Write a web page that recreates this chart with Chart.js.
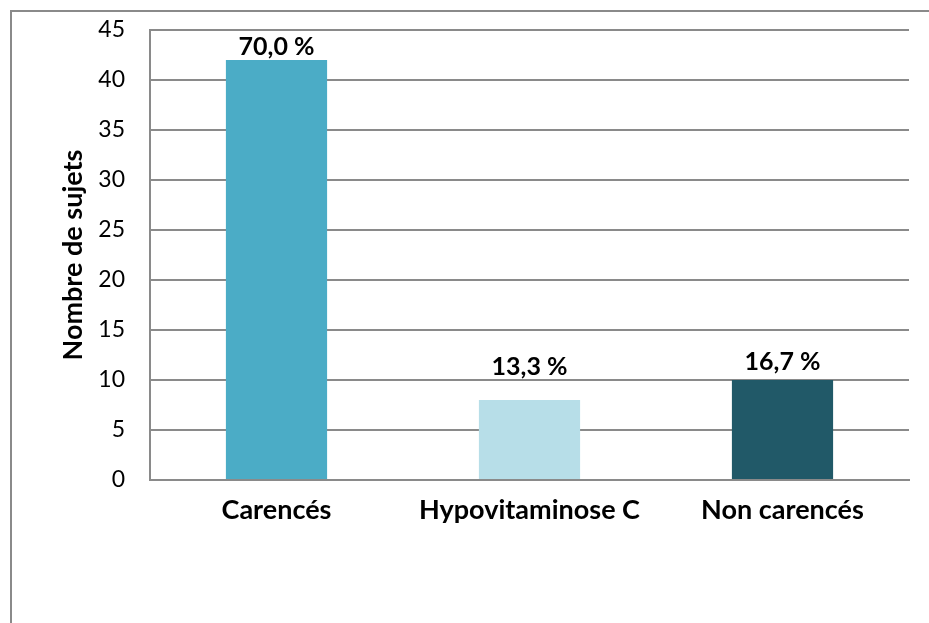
<!DOCTYPE html>
<html>
<head>
<meta charset="utf-8">
<script src="https://cdn.jsdelivr.net/npm/chart.js@4/dist/chart.umd.min.js"></script>
<style>
  html,body{margin:0;padding:0;background:#fff;overflow:hidden}
  #frame{position:absolute;left:10px;top:10px;width:940px;height:640px;border:2px solid #8a8a8a;box-sizing:border-box}
  #wrap{position:absolute;left:0;top:0;width:929px;height:623px}
</style>
</head>
<body>
<div id="frame"></div>
<div id="wrap"><canvas id="c" width="929" height="623"></canvas></div>
<script>
const categories = ['Carencés', 'Hypovitaminose C', 'Non carencés'];
const counts = [42, 8, 10];
const pctLabels = ['70,0 %', '13,3 %', '16,7 %'];
const barColors = ['#4BACC6', '#B7DEE8', '#215968'];
const yTitle = 'Nombre de sujets';

const FONT = 'Lato, sans-serif';
// gap between bar top and label baseline (Excel nudged the middle one up)
const labelGap = [5, 25, 10];

const valueLabels = {
  id:'valueLabels',
  afterDatasetsDraw(chart){
    const ctx = chart.ctx, meta = chart.getDatasetMeta(0);
    ctx.save();
    ctx.font = 'bold 25px ' + FONT;
    ctx.fillStyle = '#000';
    ctx.textAlign = 'center';
    ctx.textBaseline = 'alphabetic';
    meta.data.forEach((bar,i)=>{ ctx.fillText(pctLabels[i], bar.x, bar.y - labelGap[i]); });
    ctx.restore();
  }
};

new Chart(document.getElementById('c'), {
  type:'bar',
  data:{ labels: categories, datasets:[{ data: counts, backgroundColor: barColors, barPercentage:0.8, categoryPercentage:0.5 }] },
  options:{
    responsive:false, animation:false,
    layout:{ padding:{ left:10, top:30, right:20, bottom:10 } },
    plugins:{ legend:{display:false}, tooltip:{enabled:false} },
    scales:{
      x:{
        grid:{ display:false, drawTicks:false },
        border:{ display:true, color:'#8a8a8a', width:2 },
        ticks:{ color:'#000', padding:14, font:{ family:FONT, size:27, weight:'bold' } },
        afterFit(s){ s.height = 133; s.paddingLeft = 0; s.paddingRight = 0; }
      },
      y:{
        min:0, max:45,
        grid:{ color:'#8a8a8a', lineWidth:2, drawTicks:false },
        border:{ display:true, color:'#8a8a8a', width:2 },
        ticks:{ stepSize:5, color:'#000', padding:25, font:{ family:FONT, size:23 } },
        title:{ display:true, text:yTitle, color:'#000', padding:{top:47,bottom:0}, font:{ family:FONT, size:27, weight:'bold' } },
        afterFit(s){ s.width = 140; s.paddingTop = 0; s.paddingBottom = 0; }
      }
    }
  },
  plugins:[valueLabels]
});
</script>
</body>
</html>
